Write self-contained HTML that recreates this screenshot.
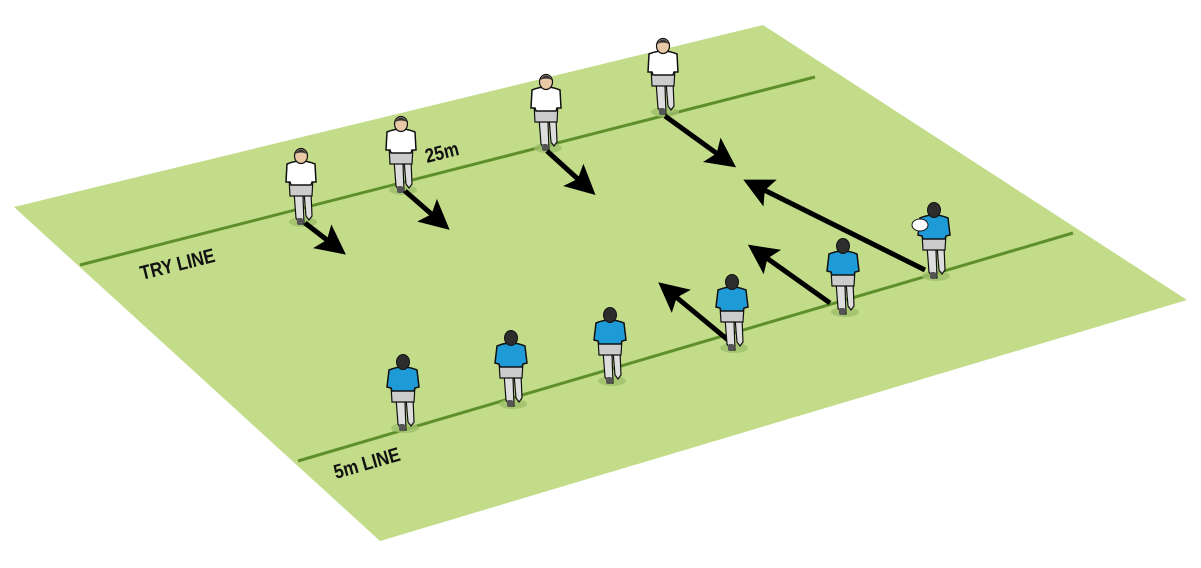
<!DOCTYPE html>
<html><head><meta charset="utf-8"><style>
html,body{margin:0;padding:0;background:#fff;width:1201px;height:568px;overflow:hidden}
text{font-family:"Liberation Sans",sans-serif;font-weight:bold;fill:#111}
</style></head><body>
<svg width="1201" height="568" viewBox="0 0 1201 568" xmlns="http://www.w3.org/2000/svg">
<defs>
<marker id="ah" markerWidth="6" markerHeight="6" refX="4.5" refY="3" orient="auto" markerUnits="strokeWidth">
<path d="M0,0 L6,3 L0,6 L1.2,3 Z" fill="#000"/></marker>
<g id="pw">
<ellipse cx="2" cy="66" rx="14" ry="5" fill="#9fbf6a" opacity=".8"/>
<path d="M-7,36 L-5,62 L-1,68 L3,68 L2,40 Z M3,36 L5,60 L8,64 L11,60 L10,36Z" fill="#ddd" stroke="#111" stroke-width="1.2"/>
<rect x="-4" y="62" width="6" height="7" rx="2" fill="#555"/>
<path d="M-12,22 L-11,40 L11,40 L12,22 Z" fill="#ccc" stroke="#111" stroke-width="1.2"/>
<path d="M-14,8 Q0,2 14,8 L15,26 L11,26 L10,29 L-10,29 L-11,26 L-15,26 Z" fill="#fff" stroke="#111" stroke-width="1.5"/>
<ellipse cx="0" cy="0" rx="6.5" ry="7.5" fill="#e9c9a5" stroke="#111" stroke-width="1.2"/>
<path d="M-6,-2 Q0,-11 6,-2 Q0,-5 -6,-2Z" fill="#333"/>
</g>
<g id="pb">
<ellipse cx="2" cy="66" rx="14" ry="5" fill="#9fbf6a" opacity=".8"/>
<path d="M-7,36 L-5,62 L-1,68 L3,68 L2,40 Z M3,36 L5,60 L8,64 L11,60 L10,36Z" fill="#ddd" stroke="#111" stroke-width="1.2"/>
<rect x="-4" y="62" width="6" height="7" rx="2" fill="#555"/>
<path d="M-12,24 L-11,40 L11,40 L12,24 Z" fill="#ccc" stroke="#111" stroke-width="1.2"/>
<path d="M-14,8 Q0,2 14,8 L16,25 L12,26 L11,29 L-11,29 L-12,26 L-16,25 Z" fill="#1e9ad6" stroke="#111" stroke-width="1.5"/>
<ellipse cx="0" cy="0" rx="6.5" ry="7.5" fill="#2d2d2d" stroke="#111" stroke-width="1"/>
</g>
</defs>
<polygon points="14,207 763,25 1187,300 380,541" fill="#c2dc8a"/>
<line x1="80" y1="265" x2="815" y2="77" stroke="#5f8f2a" stroke-width="3"/>
<line x1="298" y1="461" x2="1073" y2="233" stroke="#5f8f2a" stroke-width="3"/>
<text transform="translate(142,280) rotate(-14) scale(0.85,1)" font-size="20">TRY LINE</text>
<text transform="translate(427,163) rotate(-14) scale(0.85,1)" font-size="20">25m</text>
<text transform="translate(336,479) rotate(-16) scale(0.85,1)" font-size="20">5m LINE</text>
<use href="#pw" transform="translate(301,156)"/>
<use href="#pw" transform="translate(401,124)"/>
<use href="#pw" transform="translate(546,82)"/>
<use href="#pw" transform="translate(663,46)"/>
<g stroke="#000" stroke-width="5" marker-end="url(#ah)" fill="none">
<line x1="305" y1="223" x2="340" y2="250"/>
<line x1="405" y1="191" x2="444" y2="225"/>
<line x1="547" y1="151" x2="590" y2="190"/>
<line x1="665" y1="116" x2="730" y2="163"/>
<line x1="925" y1="270" x2="750" y2="183"/>
<line x1="830" y1="303" x2="754" y2="249"/>
<line x1="728" y1="340" x2="664" y2="287"/>
</g>
<use href="#pb" transform="translate(403,362)"/>
<use href="#pb" transform="translate(511,338)"/>
<use href="#pb" transform="translate(610,315)"/>
<use href="#pb" transform="translate(732,282)"/>
<use href="#pb" transform="translate(843,246)"/>
<use href="#pb" transform="translate(934,210)"/>
<ellipse cx="920" cy="225" rx="8" ry="6" fill="#fff" stroke="#111" stroke-width="1"/>
</svg>
</body></html>
